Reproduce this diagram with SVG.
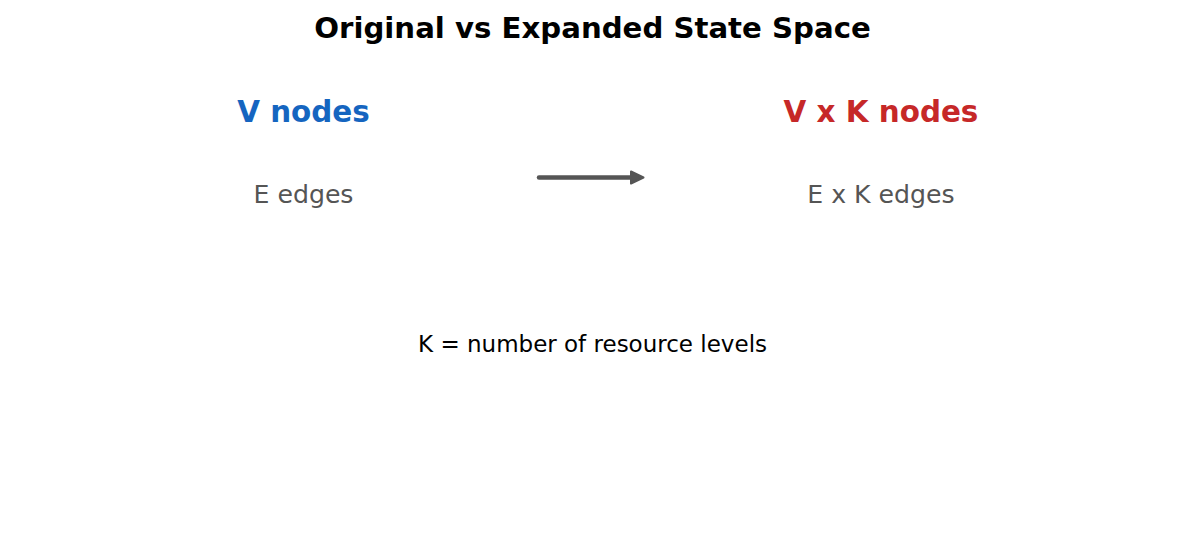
<svg xmlns="http://www.w3.org/2000/svg" width="1185" height="539" viewBox="0 0 1185 539">
<style>
text{font-family:"DejaVu Sans","Noto Sans",sans-serif;text-anchor:middle}
.t{font-size:29.2px;font-weight:bold;fill:#000}
.n{font-size:29.4px;font-weight:bold}
.e{font-size:25.2px;fill:#555555}
.k{font-size:23px;fill:#000}
</style>
<rect width="1185" height="539" fill="#ffffff"/>
<text class="t" x="592.5" y="38">Original vs Expanded State Space</text>
<g id="original">
<text class="n" x="303.5" y="122" fill="#1565C0">V nodes</text>
<text class="e" x="303.5" y="202.5">E edges</text>
</g>
<g id="expanded">
<text class="n" x="881" y="122" fill="#C62828">V x K nodes</text>
<text class="e" x="881" y="202.5">E x K edges</text>
</g>
<g id="connectors">
<line x1="539" y1="177.5" x2="632" y2="177.5" stroke="#555555" stroke-width="4.5" stroke-linecap="round"/>
<polygon points="631,171.5 643.5,177.5 631,183.5" fill="#555555" stroke="#555555" stroke-width="2" stroke-linejoin="round"/>
</g>
<text class="k" x="592.5" y="351.5">K = number of resource levels</text>
</svg>
